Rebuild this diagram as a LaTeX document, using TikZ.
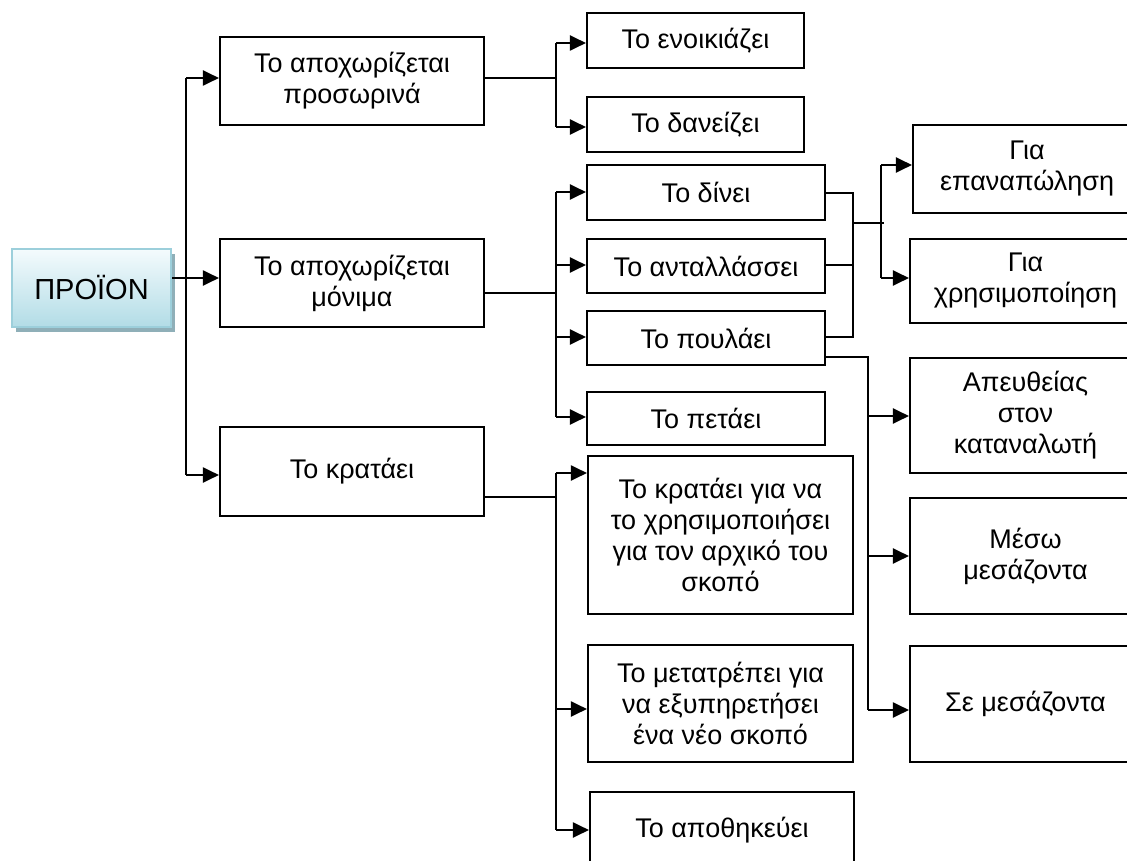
\documentclass[tikz,border=0pt]{standalone}
\usepackage{fontspec}
\setmainfont{Liberation Sans}
\usetikzlibrary{arrows.meta,shadows}
\definecolor{pborder}{HTML}{9CCFDB}
\definecolor{ptop}{HTML}{F4FBFD}
\definecolor{pbot}{HTML}{B2DCE6}
\definecolor{pshadow}{HTML}{8FAFB8}
\begin{document}
\begin{tikzpicture}[x=1pt,y=-1pt,
  box/.style={draw=black, line width=2.1pt, align=center, inner sep=0pt,
    font=\fontsize{27}{31}\selectfont},
  prod/.style={draw=pborder, line width=2.2pt, align=center, inner sep=0pt,
    top color=ptop, bottom color=pbot,
    drop shadow={shadow xshift=3.5pt, shadow yshift=-4.5pt, fill=pshadow, opacity=1},
    font=\fontsize{29}{33}\selectfont},
  ln/.style={line width=2pt},
  arr/.style={line width=2pt, -{Triangle[length=16pt,width=15pt]}},
]
\useasboundingbox (0,0) rectangle (1127,861);

% root
\node[prod, minimum width=159pt, minimum height=78pt] (p) at (91.5,288) {ΠΡΟΪΟΝ};

% first level
\node[box, minimum width=264pt, minimum height=88pt] (b1) at (352,81) {Το αποχωρίζεται\\προσωρινά};
\node[box, minimum width=264pt, minimum height=88pt] (b2) at (352,283) {Το αποχωρίζεται\\μόνιμα};
\node[box, minimum width=264pt, minimum height=89pt] (b3) at (352,471.5) {Το κρατάει};

% second level
\node[box, minimum width=217pt, minimum height=55pt] (c1) at (695.5,40.5) {Το ενοικιάζει};
\node[box, minimum width=217pt, minimum height=55pt] (c2) at (695.5,124.5) {Το δανείζει};
\node[box, minimum width=238pt, minimum height=55pt] (d1) at (706,192.5) {Το δίνει};
\node[box, minimum width=238pt, minimum height=54pt] (d2) at (706,266) {Το ανταλλάσσει};
\node[box, minimum width=238pt, minimum height=54pt] (d3) at (706,338) {Το πουλάει};
\node[box, minimum width=238pt, minimum height=53pt] (d4) at (706,418.5) {Το πετάει};
\node[box, minimum width=265pt, minimum height=158pt] (e1) at (720.5,535) {Το κρατάει για να\\το χρησιμοποιήσει\\για τον αρχικό του\\σκοπό};
\node[box, minimum width=265pt, minimum height=117pt] (e2) at (720.5,703.5) {Το μετατρέπει για\\να εξυπηρετήσει\\ένα νέο σκοπό};
\node[box, minimum width=264pt, minimum height=76pt] (e3) at (722,830) {Το αποθηκεύει};

% third level
\node[box, minimum width=228pt, minimum height=88pt] (f1) at (1027,169) {Για\\επαναπώληση};
\node[box, minimum width=231pt, minimum height=84pt] (f2) at (1025.5,281) {Για\\χρησιμοποίηση};
\node[box, minimum width=231pt, minimum height=115pt] (g1) at (1025.5,415.5) {Απευθείας\\στον\\καταναλωτή};
\node[box, minimum width=231pt, minimum height=116pt] (g2) at (1025.5,556) {Μέσω\\μεσάζοντα};
\node[box, minimum width=231pt, minimum height=116pt] (g3) at (1025.5,704) {Σε μεσάζοντα};

% trunk from the root
\coordinate (t1) at (186,78);
\coordinate (t2) at (186,278);
\coordinate (t3) at (186,475);
\draw[ln] (t1) -- (t3);
\draw[arr] (t1) -- (b1.west |- t1);
\draw[arr] (t3) -- (b3.west |- t3);
\draw[arr] (p.east |- t2) -- (b2.west |- t2);

% temporary separation
\coordinate (ja) at (556,78);
\coordinate (ja1) at (556,43);
\coordinate (ja2) at (556,127);
\draw[ln] (b1.east |- ja) -- (ja);
\draw[ln] (ja1) -- (ja2);
\draw[arr] (ja1) -- (c1.west |- ja1);
\draw[arr] (ja2) -- (c2.west |- ja2);

% permanent separation
\coordinate (jb) at (556,293);
\coordinate (jb1) at (556,192);
\coordinate (jb2) at (556,265);
\coordinate (jb3) at (556,337);
\coordinate (jb4) at (556,417);
\draw[ln] (b2.east |- jb) -- (jb);
\draw[ln] (jb1) -- (jb4);
\draw[arr] (jb1) -- (d1.west |- jb1);
\draw[arr] (jb2) -- (d2.west |- jb2);
\draw[arr] (jb3) -- (d3.west |- jb3);
\draw[arr] (jb4) -- (d4.west |- jb4);

% keeping it
\coordinate (jc) at (556,497);
\coordinate (jc1) at (556,473);
\coordinate (jc2) at (556,709);
\coordinate (jc3) at (556,830);
\draw[ln] (b3.east |- jc) -- (jc);
\draw[ln] (jc1) -- (jc3);
\draw[arr] (jc1) -- (e1.west |- jc1);
\draw[arr] (jc2) -- (e2.west |- jc2);
\draw[arr] (jc3) -- (e3.west |- jc3);

% give / exchange / sell -> purpose
\coordinate (kd1) at (853,193);
\coordinate (kd2) at (853,265);
\coordinate (kd3) at (853,337);
\coordinate (kd) at (853,223);
\coordinate (ke) at (884,223);
\coordinate (kf1) at (881,165);
\coordinate (kf2) at (881,278);
\draw[ln] (d1.east |- kd1) -- (kd1) -- (kd3) -- (d3.east |- kd3);
\draw[ln] (d2.east |- kd2) -- (kd2);
\draw[ln] (kd) -- (ke);
\draw[ln] (kf1) -- (kf2);
\draw[arr] (kf1) -- (f1.west |- kf1);
\draw[arr] (kf2) -- (f2.west |- kf2);

% sale channels
\coordinate (ge) at (868,357);
\coordinate (ge1) at (868,416);
\coordinate (ge2) at (868,556);
\coordinate (ge3) at (868,710);
\draw[ln] (d3.east |- ge) -- (ge) -- (ge3);
\draw[arr] (ge1) -- (g1.west |- ge1);
\draw[arr] (ge2) -- (g2.west |- ge2);
\draw[arr] (ge3) -- (g3.west |- ge3);
\end{tikzpicture}
\end{document}
